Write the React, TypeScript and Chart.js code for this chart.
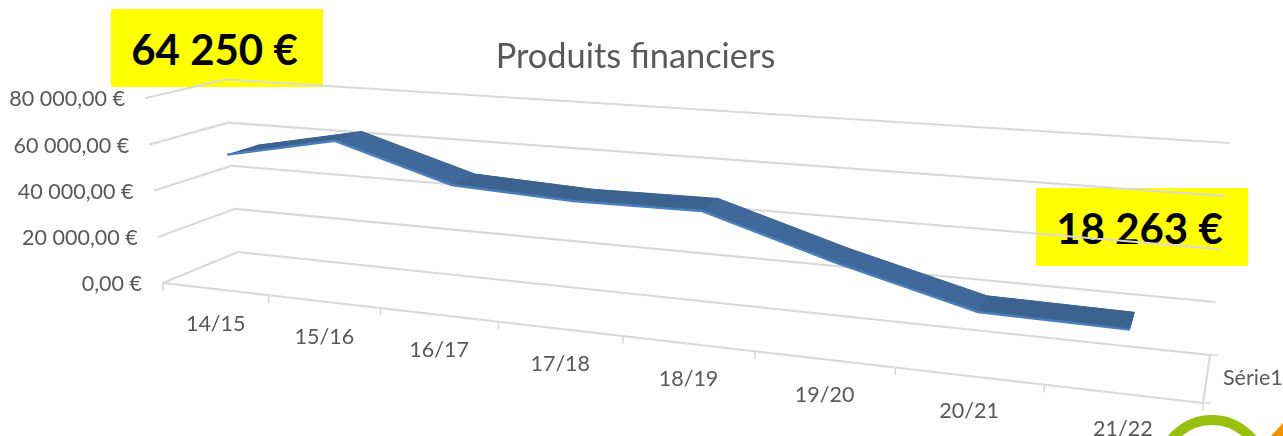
import React, { useEffect, useRef } from "react";
import { Chart, registerables } from "chart.js";

Chart.register(...registerables);

const categories = ["14/15", "15/16", "16/17", "17/18", "18/19", "19/20", "20/21", "21/22"];
const seriesValues = [54500, 64250, 49600, 47300, 47800, 32300, 19000, 18263];
const seriesName = "Série1";
const chartTitle = "Produits financiers";
const callouts = ["64 250 €", "18 263 €"];

const FONT = "Lato, sans-serif";
const TEXT = "#595959";
const GRID = "#d9d9d9";

type P = [number, number];
const lerp = (a: P, b: P, t: number): P => [a[0] + (b[0] - a[0]) * t, a[1] + (b[1] - a[1]) * t];

// Perspective frame of the 3-D plot: back wall and front plane corners.
const BACK = { bl: [238, 252] as P, br: [1210, 355] as P, tl: [225, 79.5] as P, tr: [1229, 143] as P };
const FRONT = { bl: [163, 283] as P, br: [1203, 403] as P, tl: [146, 98] as P, tr: [1223, 176] as P };
const PERSPECTIVE = -0.207;
const warpU = (u: number) => (u * (1 + PERSPECTIVE)) / (1 + PERSPECTIVE * u);

function project(u: number, v: number, depth: number): P {
  const s = warpU(u);
  const back = lerp(lerp(BACK.bl, BACK.br, s), lerp(BACK.tl, BACK.tr, s), v);
  const front = lerp(lerp(FRONT.bl, FRONT.br, s), lerp(FRONT.tl, FRONT.tr, s), v);
  return lerp(back, front, depth);
}

const perspectivePlugin = {
  id: "perspective",
  afterDatasetsUpdate(chart: any) {
    const { x, y } = chart.scales;
    chart.data.datasets.forEach((ds: any, i: number) => {
      chart.getDatasetMeta(i).data.forEach((el: any) => {
        const u = (el.x - x.left) / x.width;
        const v = (y.bottom - el.y) / y.height;
        const p = project(u, v, ds.depth);
        el.x = p[0];
        el.y = p[1];
      });
    });
  },
  beforeDatasetsDraw(chart: any) {
    const { ctx } = chart;
    const { x, y } = chart.scales;
    const line = (a: P, b: P, w = 2.1) => {
      ctx.beginPath();
      ctx.moveTo(a[0], a[1]);
      ctx.lineTo(b[0], b[1]);
      ctx.lineWidth = w;
      ctx.stroke();
    };
    ctx.save();
    ctx.strokeStyle = GRID;
    ctx.lineCap = "round";
    ctx.fillStyle = TEXT;
    ctx.font = `21.5px ${FONT}`;
    // value axis: walls and labels
    y.ticks.forEach((t: any) => {
      const v = t.value / y.max;
      const f = project(0, v, 1);
      line(f, project(0, v, 0));
      line(project(0, v, 0), project(1, v, 0));
      ctx.textAlign = "right";
      ctx.textBaseline = "middle";
      ctx.fillText(t.label, f[0] - 21, f[1] + 1.5);
    });
    // category axis: front edge, ticks and labels
    line(project(0, 0, 1), project(1, 0, 1));
    line(project(1, 0, 0), project(1, 0, 1));
    const n = x.ticks.length;
    for (let i = 0; i <= n; i++) {
      const p = project(i / n, 0, 1);
      line(p, [p[0], p[1] + 7], 1.6);
    }
    x.ticks.forEach((t: any, i: number) => {
      const p = project((i + 0.5) / n, 0, 1);
      ctx.textAlign = "center";
      ctx.fillText(t.label, p[0] + 0.5, p[1] + 35.5);
    });
    // depth axis
    const db = project(1, 0, 0);
    const df = project(1, 0, 1);
    line(db, [db[0] + 7, db[1]], 1.6);
    line(df, [df[0] + 7, df[1]], 1.6);
    ctx.textAlign = "left";
    ctx.fillText(seriesName, 1223, 378);

    // ribbon body between the rear and front edges
    const rear = chart.getDatasetMeta(0).data;
    const front = chart.getDatasetMeta(1).data;
    ctx.beginPath();
    rear.forEach((el: any, i: number) => (i ? ctx.lineTo(el.x, el.y) : ctx.moveTo(el.x, el.y)));
    [...front].reverse().forEach((el: any) => ctx.lineTo(el.x, el.y));
    ctx.closePath();
    ctx.fillStyle = "#40699b";
    ctx.fill();
    // flatter stretches catch less light
    ctx.fillStyle = "#3c628f";
    for (let i = 0; i < rear.length - 1; i++) {
      if (seriesValues[i] - seriesValues[i + 1] > 8000) continue;
      ctx.beginPath();
      ctx.moveTo(rear[i].x, rear[i].y);
      ctx.lineTo(rear[i + 1].x, rear[i + 1].y);
      ctx.lineTo(front[i + 1].x, front[i + 1].y);
      ctx.lineTo(front[i].x, front[i].y);
      ctx.closePath();
      ctx.fill();
    }
    ctx.restore();
  },
  afterDraw(chart: any) {
    // artwork cut off at the slide's lower-right corner
    const { ctx } = chart;
    ctx.save();
    ctx.strokeStyle = "#97bf0d";
    ctx.lineWidth = 10;
    ctx.beginPath();
    ctx.arc(1212, 471.6, 51.6, 0, Math.PI * 2);
    ctx.stroke();
    ctx.fillStyle = "#f39200";
    ctx.beginPath();
    ctx.moveTo(1271, 436);
    ctx.lineTo(1283, 423);
    ctx.lineTo(1283, 436);
    ctx.closePath();
    ctx.fill();
    ctx.restore();
  },
};

const boxStyle = (left: number, top: number): React.CSSProperties => ({
  position: "absolute",
  left,
  top,
  width: 212,
  height: 78,
  boxSizing: "border-box",
  paddingRight: 5,
  paddingTop: 2,
  background: "#ffff00",
  color: "#000",
  font: `700 42px ${FONT}`,
  display: "flex",
  alignItems: "center",
  justifyContent: "center",
  whiteSpace: "nowrap",
});

export default function App() {
  const ref = useRef<HTMLCanvasElement | null>(null);
  useEffect(() => {
    document.body.style.margin = "0";
    document.body.style.background = "#fff";
    const chart = new Chart(ref.current!, {
      type: "line",
      data: {
        labels: categories,
        datasets: [
          { label: seriesName, data: seriesValues, depth: 0.3, borderColor: "#3c628f", borderWidth: 1, pointRadius: 0, clip: false } as any,
          { label: seriesName, data: seriesValues, depth: 0.7, borderColor: "#4a7ebf", borderWidth: 2.4, pointRadius: 0, clip: false } as any,
        ],
      },
      options: {
        responsive: false,
        animation: false,
        layout: { padding: { right: 12 } },
        scales: {
          x: { type: "category", offset: true, display: false, ticks: { autoSkip: false } },
          y: {
            type: "linear",
            min: 0,
            max: 80000,
            display: false,
            ticks: {
              stepSize: 20000,
              callback: (v: any) =>
                Number(v).toString().replace(/\B(?=(\d{3})+$)/g, " ") + ",00 €",
            },
          },
        },
        plugins: {
          legend: { display: false },
          tooltip: { enabled: false },
          title: {
            display: true,
            text: chartTitle,
            color: TEXT,
            font: { family: FONT, size: 34.4, weight: "normal" },
            padding: { top: 36, bottom: 10 },
          },
        },
      },
      plugins: [perspectivePlugin],
    });
    return () => chart.destroy();
  }, []);
  return (
    <div style={{ position: "absolute", left: 0, top: 0, width: 1283, height: 436, overflow: "hidden" }}>
      <div style={boxStyle(111, 9)}>{callouts[0]}</div>
      <div style={boxStyle(1036, 188)}>{callouts[1]}</div>
      <canvas ref={ref} width={1283} height={436} style={{ position: "absolute", left: 0, top: 0, display: "block" }} />
    </div>
  );
}
